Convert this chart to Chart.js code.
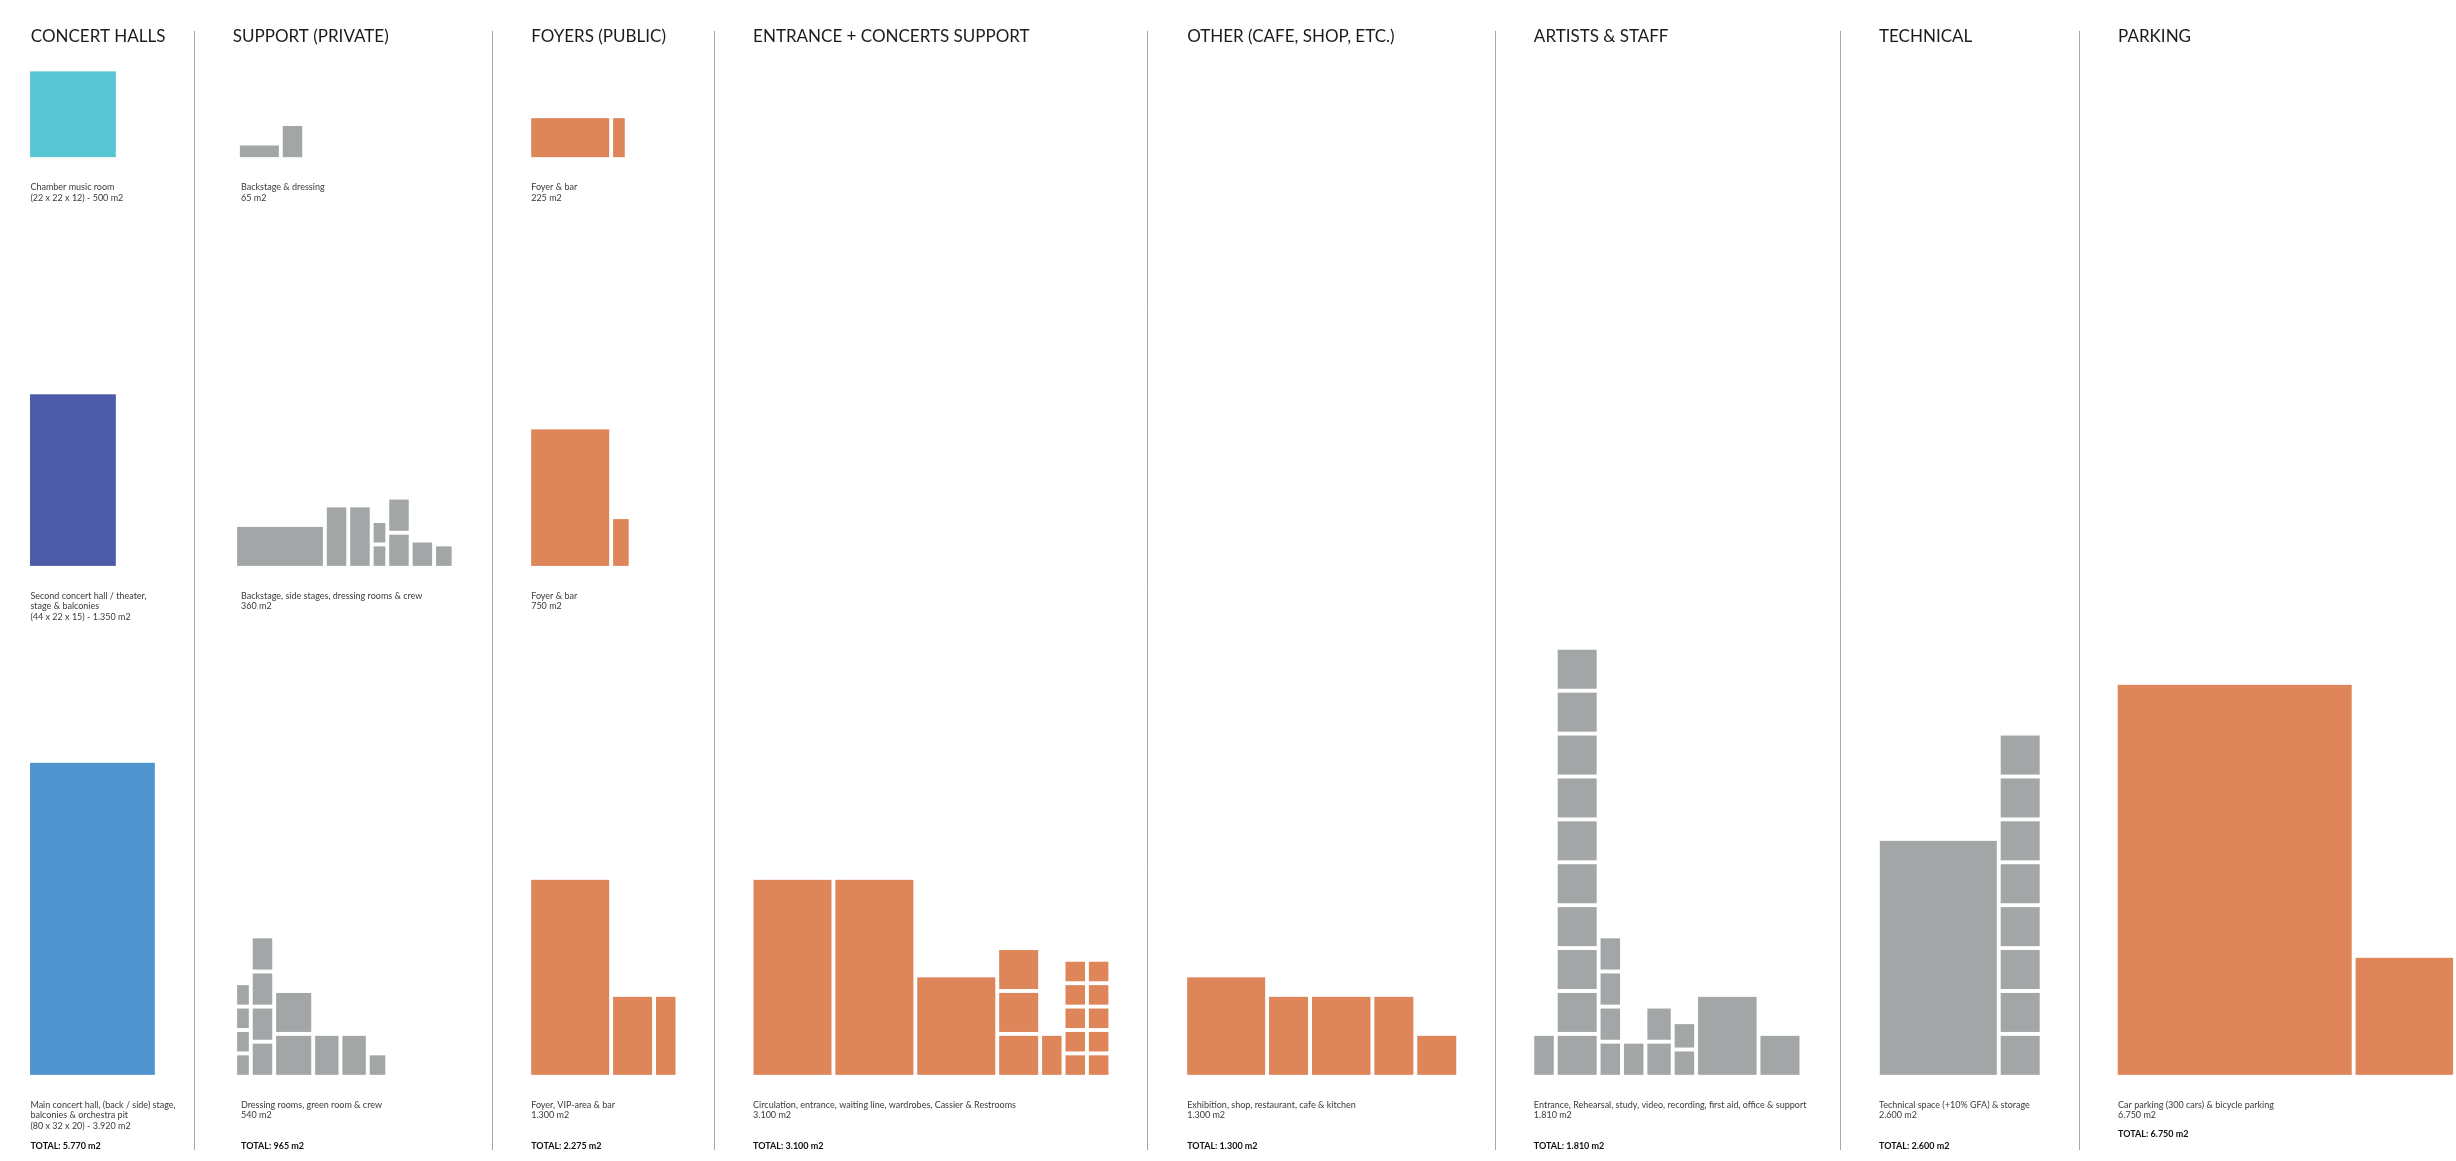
<!DOCTYPE html>
<html>
<head>
<meta charset="utf-8">
<title>Concert hall program</title>
<script src="https://cdn.jsdelivr.net/npm/chart.js@4.4.1/dist/chart.umd.min.js"></script>
<style>
    html, body { margin: 0; padding: 0; background: #fff; }
    #wrap { width: 2456px; height: 1161px; }
</style>
</head>
<body>
<div id="wrap"><canvas id="programChart"></canvas></div>
<script>
/*
 * Program data, all in metres.
 * block = [row, left, lift above row baseline, width, height]
 */
const rowBaselines = [40.3, 145.1, 275.6]; // metres from the top of the sheet

const chamberHall = [[0, 7.7, 0, 22, 22]];
const secondHall = [[1, 7.7, 0, 22, 44]];
const mainHall = [[2, 7.7, 0, 32, 80]];

const supportBlocks = [
    [0, 61.5, 0, 10, 3], [0, 72.5, 0, 5, 8],
    [1, 60.8, 0, 22, 10], [1, 83.8, 0, 5, 15], [1, 89.8, 0, 5, 15],
    [1, 95.8, 0, 3, 5], [1, 95.8, 6, 3, 5], [1, 99.8, 0, 5, 8], [1, 99.8, 9, 5, 8],
    [1, 105.8, 0, 5, 6], [1, 111.8, 0, 4, 5],
    [2, 60.8, 0, 3, 5], [2, 60.8, 6, 3, 5], [2, 60.8, 12, 3, 5], [2, 60.8, 18, 3, 5],
    [2, 64.8, 0, 5, 8], [2, 64.8, 9, 5, 8], [2, 64.8, 18, 5, 8], [2, 64.8, 27, 5, 8],
    [2, 70.8, 0, 9, 10], [2, 70.8, 11, 9, 10],
    [2, 80.8, 0, 6, 10], [2, 87.8, 0, 6, 10], [2, 94.8, 0, 4, 5]
];

const foyerBlocks = [
    [0, 136.2, 0, 20, 10], [0, 157.2, 0, 3, 10],
    [1, 136.2, 0, 20, 35], [1, 157.2, 0, 4, 12],
    [2, 136.2, 0, 20, 50], [2, 157.2, 0, 10, 20], [2, 168.2, 0, 5, 20]
];

const entranceBlocks = [
    [2, 193.2, 0, 20, 50], [2, 214.2, 0, 20, 50], [2, 235.2, 0, 20, 25],
    [2, 256.2, 0, 10, 10], [2, 256.2, 11, 10, 10], [2, 256.2, 22, 10, 10],
    [2, 267.2, 0, 5, 10],
    [2, 273.2, 0, 5, 5], [2, 273.2, 6, 5, 5], [2, 273.2, 12, 5, 5], [2, 273.2, 18, 5, 5], [2, 273.2, 24, 5, 5],
    [2, 279.2, 0, 5, 5], [2, 279.2, 6, 5, 5], [2, 279.2, 12, 5, 5], [2, 279.2, 18, 5, 5], [2, 279.2, 24, 5, 5]
];

const otherBlocks = [
    [2, 304.4, 0, 20, 25], [2, 325.4, 0, 10, 20], [2, 336.4, 0, 15, 20],
    [2, 352.4, 0, 10, 20], [2, 363.4, 0, 10, 10]
];

const artistBlocks = [
    [2, 393.4, 0, 5, 10],
    [2, 399.4, 0, 10, 10], [2, 399.4, 11, 10, 10], [2, 399.4, 22, 10, 10], [2, 399.4, 33, 10, 10],
    [2, 399.4, 44, 10, 10], [2, 399.4, 55, 10, 10], [2, 399.4, 66, 10, 10], [2, 399.4, 77, 10, 10],
    [2, 399.4, 88, 10, 10], [2, 399.4, 99, 10, 10],
    [2, 410.4, 0, 5, 8], [2, 410.4, 9, 5, 8], [2, 410.4, 18, 5, 8], [2, 410.4, 27, 5, 8],
    [2, 416.4, 0, 5, 8],
    [2, 422.4, 0, 6, 8], [2, 422.4, 9, 6, 8],
    [2, 429.4, 0, 5, 6], [2, 429.4, 7, 5, 6],
    [2, 435.4, 0, 15, 20], [2, 451.4, 0, 10, 10]
];

const technicalBlocks = [
    [2, 482.0, 0, 30, 60],
    [2, 513.0, 0, 10, 10], [2, 513.0, 11, 10, 10], [2, 513.0, 22, 10, 10], [2, 513.0, 33, 10, 10],
    [2, 513.0, 44, 10, 10], [2, 513.0, 55, 10, 10], [2, 513.0, 66, 10, 10], [2, 513.0, 77, 10, 10]
];

const parkingBlocks = [[2, 543.0, 0, 60, 100], [2, 604.0, 0, 25, 30]];

// Column headers and text
const columnNames = ['CONCERT HALLS', 'SUPPORT (PRIVATE)', 'FOYERS (PUBLIC)', 'ENTRANCE + CONCERTS SUPPORT',
    'OTHER (CAFE, SHOP, ETC.)', 'ARTISTS & STAFF', 'TECHNICAL', 'PARKING'];
const columnLeft = [7.9, 59.7, 136.2, 193.1, 304.4, 393.3, 481.8, 543.1];
const labelLeft = [7.8, 61.8, 136.2, 193.1, 304.4, 393.3, 481.8, 543.1];
const dividerX = [49.7, 126.2, 183.1, 294.2, 383.3, 471.8, 533.1];
const totals = ['5.770', '965', '2.275', '3.100', '1.300', '1.810', '2.600', '6.750'];

const roomLabels = [
    [0, 0, ['Chamber music room', '(22 x 22 x 12) - 500 m2']],
    [0, 1, ['Second concert hall / theater,', 'stage & balconies', '(44 x 22 x 15) - 1.350 m2']],
    [0, 2, ['Main concert hall, (back / side) stage,', 'balconies & orchestra pit', '(80 x 32 x 20) - 3.920 m2']],
    [1, 0, ['Backstage & dressing', '65 m2']],
    [1, 1, ['Backstage, side stages, dressing rooms & crew', '360 m2']],
    [1, 2, ['Dressing rooms, green room & crew', '540 m2']],
    [2, 0, ['Foyer & bar', '225 m2']],
    [2, 1, ['Foyer & bar', '750 m2']],
    [2, 2, ['Foyer, VIP-area & bar', '1.300 m2']],
    [3, 2, ['Circulation, entrance, waiting line, wardrobes, Cassier & Restrooms', '3.100 m2']],
    [4, 2, ['Exhibition, shop, restaurant, cafe & kitchen', '1.300 m2']],
    [5, 2, ['Entrance, Rehearsal, study, video, recording, first aid, office & support', '1.810 m2']],
    [6, 2, ['Technical space (+10% GFA) & storage', '2.600 m2']],
    [7, 2, ['Car parking (300 cars) & bicycle parking', '6.750 m2']]
];

// Turns [row, left, lift, w, h] into points the plugin can draw
function toPoints(blocks) {
    return blocks.map(b => {
        const bottom = rowBaselines[b[0]] - b[2];
        return {x: b[1], y: bottom - b[4], w: b[3], h: b[4]};
    });
}

function blockSet(label, blocks, color) {
    return {
        label: label,
        data: toPoints(blocks),
        backgroundColor: color,
        pointRadius: 0,
        pointHoverRadius: 0,
        showLine: false
    };
}

const ORANGE = '#DE8559';
const GREY = '#A3A6A7';

// Draws the rooms as rectangles and the sheet text, all through the chart scales
const programPlugin = {
    id: 'programBlocks',
    afterDatasetsDraw: (chart) => {
        const {ctx} = chart;
        const xs = chart.scales.x;
        const ys = chart.scales.y;
        ctx.save();

        // column dividers
        ctx.strokeStyle = '#A9A9A9';
        ctx.lineWidth = 1;
        dividerX.forEach(d => {
            const px = Math.round(xs.getPixelForValue(d)) + 0.5;
            ctx.beginPath();
            ctx.moveTo(px, ys.getPixelForValue(7.9));
            ctx.lineTo(px, ys.getPixelForValue(294.9));
            ctx.stroke();
        });

        // room blocks
        chart.data.datasets.forEach(ds => {
            ctx.fillStyle = ds.backgroundColor;
            ds.data.forEach(p => {
                const x0 = xs.getPixelForValue(p.x);
                const x1 = xs.getPixelForValue(p.x + p.w);
                const y0 = ys.getPixelForValue(p.y);
                const y1 = ys.getPixelForValue(p.y + p.h);
                ctx.fillRect(x0, y0, x1 - x0, y1 - y0);
            });
        });

        // headers
        ctx.fillStyle = '#1b1b1b';
        ctx.textBaseline = 'middle';
        ctx.font = '17px Lato';
        columnNames.forEach((name, i) => {
            ctx.fillText(name, xs.getPixelForValue(columnLeft[i]), 37);
        });

        // room labels
        ctx.fillStyle = '#3a3a3a';
        ctx.font = '9px Lato';
        roomLabels.forEach(l => {
            const base = ys.getPixelForValue(rowBaselines[l[1]]);
            l[2].forEach((line, j) => {
                ctx.fillText(line, xs.getPixelForValue(labelLeft[l[0]]), base + 30 + j * 10.5);
            });
        });

        // totals
        ctx.fillStyle = '#111';
        ctx.font = 'bold 9px Lato';
        totals.forEach((t, i) => {
            const ty = (i == 7) ? 1134 : 1146;
            ctx.fillText('TOTAL: ' + t + ' m2', xs.getPixelForValue(labelLeft[i]), ty);
        });

        ctx.restore();
    }
};

const ctx = document.getElementById('programChart');

new Chart(ctx, {
    type: 'scatter',
    data: {
        datasets: [
            blockSet('Chamber music room', chamberHall, '#59C6D3'),
            blockSet('Second concert hall', secondHall, '#4E5BA8'),
            blockSet('Main concert hall', mainHall, '#4F94CF'),
            blockSet('Support (private)', supportBlocks, GREY),
            blockSet('Foyers (public)', foyerBlocks, ORANGE),
            blockSet('Entrance + concerts support', entranceBlocks, ORANGE),
            blockSet('Other', otherBlocks, ORANGE),
            blockSet('Artists & staff', artistBlocks, GREY),
            blockSet('Technical', technicalBlocks, GREY),
            blockSet('Parking', parkingBlocks, ORANGE)
        ]
    },
    options: {
        responsive: true,
        maintainAspectRatio: false,
        animation: false,
        events: [],
        layout: { padding: 0 },
        plugins: {
            legend: { display: false },
            tooltip: { enabled: false },
            title: { display: false }
        },
        scales: {
            x: { type: 'linear', display: false, min: 0, max: 2456 / 3.9 },
            y: { type: 'linear', display: false, reverse: true, min: 0, max: 1161 / 3.9 }
        }
    },
    plugins: [programPlugin]
});
</script>
</body>
